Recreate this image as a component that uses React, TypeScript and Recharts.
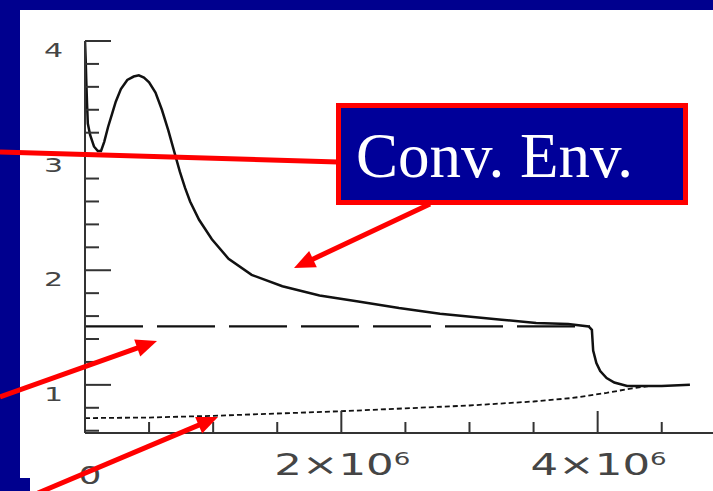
import React from 'react';
import { ComposedChart, Line, XAxis, YAxis } from 'recharts';

// Radius (cm) and value of the solid profile
const convRadius = [
  0, 0.005e6, 0.01e6, 0.016e6, 0.022e6, 0.04e6, 0.07e6, 0.1e6, 0.125e6, 0.15e6,
  0.18e6, 0.21e6, 0.24e6, 0.28e6, 0.33e6, 0.38e6, 0.42e6, 0.46e6, 0.5e6, 0.55e6,
  0.6e6, 0.65e6, 0.7e6, 0.74e6, 0.78e6, 0.82e6, 0.89e6, 0.99e6, 1.12e6, 1.3e6,
  1.54e6, 1.83e6, 2.12e6, 2.45e6, 2.77e6, 3.23e6, 3.52e6, 3.77e6, 3.93e6, 3.955e6,
  3.965e6, 3.99e6, 4.02e6, 4.07e6, 4.13e6, 4.23e6, 4.5e6, 4.72e6,
];
const convValue = [
  4.0, 3.85, 3.65, 3.45, 3.28, 3.18, 3.08, 3.04, 3.04, 3.12,
  3.25, 3.36, 3.47, 3.58, 3.66, 3.69, 3.7, 3.68, 3.64, 3.55,
  3.4, 3.22, 3.02, 2.86, 2.72, 2.6, 2.44, 2.27, 2.1, 1.96,
  1.86, 1.78, 1.73, 1.67, 1.62, 1.57, 1.54, 1.53, 1.51, 1.48,
  1.3, 1.19, 1.12, 1.06, 1.02, 0.99, 0.99, 1.0,
];

// Long-dashed reference level
const dashRadius = [0, 3.94e6];
const dashValue = [1.51, 1.51];

// Dotted profile
const dotRadius = [0, 0.5e6, 1.0e6, 1.5e6, 2.0e6, 2.5e6, 3.0e6, 3.5e6, 3.8e6, 4.07e6, 4.27e6, 4.4e6];
const dotValue = [0.71, 0.715, 0.73, 0.75, 0.77, 0.795, 0.82, 0.855, 0.885, 0.93, 0.97, 0.99];

// Axis ticks
const xTicks = [0, 0.5e6, 1e6, 1.5e6, 2e6, 2.5e6, 3e6, 3.5e6, 4e6, 4.5e6];
const xMajorStep = 2e6;
const yTicks = [0.6, 0.8, 1, 1.2, 1.4, 1.6, 1.8, 2, 2.2, 2.4, 2.6, 2.8, 3, 3.2, 3.4, 3.6, 3.8, 4];

const xDomain: [number, number] = [0, 4.9e6];
const yDomain: [number, number] = [0.58, 4];

type Row = { r: number; conv?: number; dash?: number; dot?: number };

function buildRows(): Row[] {
  const map = new Map<number, Row>();
  const put = (rs: number[], vs: number[], key: 'conv' | 'dash' | 'dot') => {
    rs.forEach((r, i) => {
      const row = map.get(r) ?? { r };
      row[key] = vs[i];
      map.set(r, row);
    });
  };
  put(convRadius, convValue, 'conv');
  put(dashRadius, dashValue, 'dash');
  put(dotRadius, dotValue, 'dot');
  return Array.from(map.values()).sort((a, b) => a.r - b.r);
}

const rows = buildRows();

const AXIS = '#333';
const LABEL = '#454545';
const RED = '#ff0000';
const NAVY = '#00008e';

const isMajorX = (v: number) => Math.abs(v / xMajorStep - Math.round(v / xMajorStep)) < 1e-9;
const isMajorY = (v: number) => Math.abs(v - Math.round(v)) < 1e-6;

const BottomTick = (props: any) => {
  const { x, y, payload } = props;
  const v: number = payload.value;
  const major = isMajorX(v);
  const len = major ? 22 : 11;
  let label: React.ReactNode = null;
  if (major) {
    if (v === 0) {
      label = (
        <text
          transform={`translate(${x + 5},${y + 51}) scale(1.5,1)`}
          textAnchor="middle"
          fontFamily="DejaVu Sans"
          fontSize={24}
          fill={LABEL}
        >
          0
        </text>
      );
    } else {
      const exp = Math.floor(Math.log10(v));
      const mant = Math.round(v / Math.pow(10, exp));
      label = (
        <text
          transform={`translate(${x + 1},${y + 42}) scale(1.45,1)`}
          textAnchor="middle"
          fontFamily="DejaVu Sans"
          fontSize={30}
          fill={LABEL}
        >
          {`${mant}×10`}
          <tspan fontSize={18} dy={-10}>
            {exp}
          </tspan>
        </text>
      );
    }
  }
  return (
    <g>
      <line x1={x} y1={y} x2={x} y2={y - len} stroke={AXIS} strokeWidth={2} />
      {label}
    </g>
  );
};

const TopTick = (props: any) => {
  const { x, y, payload } = props;
  const len = isMajorX(payload.value) ? 22 : 11;
  return <line x1={x} y1={y} x2={x} y2={y + len} stroke={AXIS} strokeWidth={2} />;
};

const LeftTick = (props: any) => {
  const { x, y, payload } = props;
  const v: number = payload.value;
  const major = isMajorY(v);
  return (
    <g>
      <line x1={x} y1={y} x2={x + (major ? 26 : 14)} y2={y} stroke={AXIS} strokeWidth={2} />
      {major && (
        <text
          transform={`translate(${x - 22},${y + 16}) scale(1.5,1)`}
          textAnchor="end"
          fontFamily="DejaVu Sans"
          fontSize={20}
          fill={LABEL}
        >
          {Math.round(v)}
        </text>
      )}
    </g>
  );
};

// Red pointer with a triangular head at (x2, y2)
function Arrow({ x1, y1, x2, y2 }: { x1: number; y1: number; x2: number; y2: number }) {
  const dx = x2 - x1;
  const dy = y2 - y1;
  const d = Math.hypot(dx, dy);
  const ux = dx / d;
  const uy = dy / d;
  const headLen = 21;
  const halfW = 9;
  const bx = x2 - ux * headLen;
  const by = y2 - uy * headLen;
  const pts = [
    `${x2},${y2}`,
    `${bx - uy * halfW},${by + ux * halfW}`,
    `${bx + uy * halfW},${by - ux * halfW}`,
  ].join(' ');
  return (
    <g>
      <line x1={x1} y1={y1} x2={bx + ux * 2} y2={by + uy * 2} stroke={RED} strokeWidth={5} />
      <polygon points={pts} fill={RED} />
    </g>
  );
}

export default function App() {
  return (
    <div
      style={{
        position: 'absolute',
        left: 0,
        top: 0,
        width: 713,
        height: 491,
        overflow: 'hidden',
        background: NAVY,
      }}
    >
      <div style={{ position: 'absolute', left: 20, top: 10, right: 0, bottom: 0, background: '#fff' }} />
      <div style={{ position: 'absolute', left: 0, top: 478, width: 30, height: 13, background: NAVY }} />

      <div style={{ position: 'absolute', left: 0, top: 0 }}>
        <ComposedChart width={713} height={491} data={rows} margin={{ top: 41, right: 0, bottom: 0, left: 0 }}>
          <XAxis
            dataKey="r"
            type="number"
            domain={xDomain}
            allowDataOverflow
            ticks={xTicks}
            interval={0}
            height={58}
            tickSize={0}
            tickMargin={0}
            tickLine={false}
            axisLine={{ stroke: AXIS, strokeWidth: 2 }}
            tick={<BottomTick />}
          />
          <XAxis
            xAxisId="top"
            orientation="top"
            dataKey="r"
            type="number"
            domain={xDomain}
            allowDataOverflow
            ticks={xTicks}
            interval={0}
            height={0}
            tickSize={0}
            tickMargin={0}
            tickLine={false}
            axisLine={{ stroke: AXIS, strokeWidth: 2 }}
            tick={<TopTick />}
          />
          <YAxis
            type="number"
            domain={yDomain}
            allowDataOverflow
            ticks={yTicks}
            interval={0}
            width={85}
            tickSize={0}
            tickMargin={0}
            tickLine={false}
            axisLine={{ stroke: AXIS, strokeWidth: 2 }}
            tick={<LeftTick />}
          />
          <Line
            dataKey="dot"
            type="linear"
            stroke="#111"
            strokeWidth={1.8}
            strokeDasharray="5 3"
            dot={false}
            connectNulls
            isAnimationActive={false}
          />
          <Line
            dataKey="dash"
            type="linear"
            stroke="#111"
            strokeWidth={2.2}
            strokeDasharray="58 14"
            dot={false}
            connectNulls
            isAnimationActive={false}
          />
          <Line
            dataKey="conv"
            type="linear"
            stroke="#111"
            strokeWidth={2.5}
            dot={false}
            connectNulls
            isAnimationActive={false}
          />
        </ComposedChart>
      </div>

      <svg
        width={713}
        height={491}
        style={{ position: 'absolute', left: 0, top: 0, pointerEvents: 'none' }}
      >
        <line x1={0} y1={152} x2={338} y2={162} stroke={RED} strokeWidth={5} />
        <rect x={338.5} y={105.5} width={347} height={97} fill="#000099" stroke={RED} strokeWidth={5} />
        <text x={356} y={177} fontFamily="Liberation Serif" fontSize={63} fill="#fff">
          Conv. Env.
        </text>
        <Arrow x1={430} y1={204} x2={294} y2={268} />
        <Arrow x1={0} y1={397} x2={157} y2={341} />
        <Arrow x1={38} y1={493} x2={218} y2={417} />
      </svg>
    </div>
  );
}
